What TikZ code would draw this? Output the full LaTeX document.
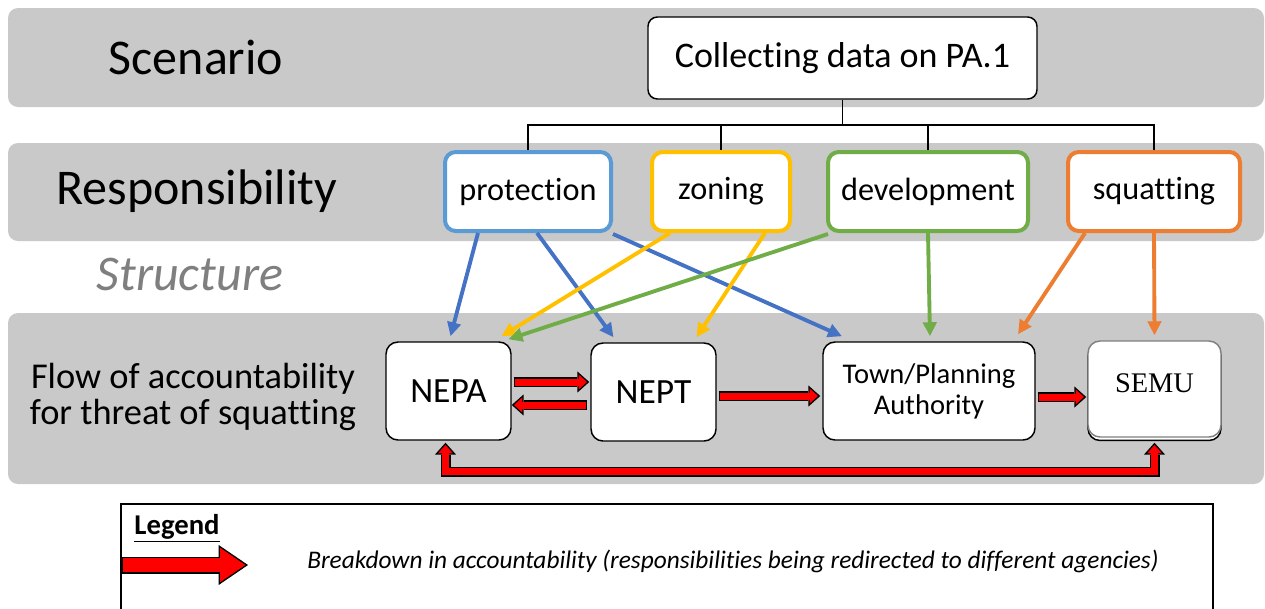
\documentclass[tikz,border=0pt]{standalone}
\usepackage{fontspec}
\setmainfont{Carlito}[RawFeature={-liga;-clig;-calt}]
\newfontfamily\semufont{Liberation Serif}
\usetikzlibrary{arrows.meta, calc, positioning, shadows}
\definecolor{bandGrey}{HTML}{C9C9C9}
\definecolor{txtGrey}{HTML}{7F7F7F}
\definecolor{respBlue}{HTML}{5B9BD5}
\definecolor{arrBlue}{HTML}{4472C4}
\definecolor{respYellow}{HTML}{FFC000}
\definecolor{respGreen}{HTML}{70AD47}
\definecolor{respOrange}{HTML}{ED7D31}
\definecolor{flowRed}{HTML}{FF0000}
\tikzset{
  redtip/.tip       = {Triangle[length=6.2pt, width=11.1pt, line width=0pt]},
  redrim/.tip       = {Triangle[length=9pt, width=16pt, line width=0pt]},
  legtip/.tip       = {Triangle[length=18.9pt, width=25.8pt, line width=0pt]},
  legrim/.tip       = {Triangle[length=22pt, width=30pt, line width=0pt]},
  band/.style       = {fill=bandGrey, rounded corners=7.5pt},
  rowlbl/.style     = {font=\fontsize{37.5}{40}\selectfont},
  scenbox/.style    = {draw, fill=white, line width=1.1pt, rounded corners=7pt,
                       minimum width=291.75pt, minimum height=61.5pt, inner sep=0pt,
                       font=\fontsize{27}{30}\selectfont},
  respbox/.style    = {draw=#1, fill=white, line width=3pt, rounded corners=8pt,
                       minimum height=59.25pt, inner sep=0pt,
                       font=\fontsize{24.2}{26}\selectfont},
  agency/.style     = {draw, fill=white, line width=1.1pt, rounded corners=9pt,
                       minimum height=73.5pt, inner sep=0pt, align=center},
  treeline/.style   = {line width=1.2pt, black},
  resparrow/.style  = {#1, line width=2.9pt, -{Triangle[length=10.5pt, width=10pt]}},
  redbase/.style    = {draw=flowRed, line width=5.25pt, line join=miter,
                       shorten <=1.1pt, shorten >=1.7pt},
  redrimbase/.style = {draw=black, line width=7.5pt, line join=miter,
                       shorten <=0pt, shorten >=0pt},
  redarrow/.style   = {redbase, -{redtip}, preaction={redrimbase, -{redrim}}},
  redboth/.style    = {redbase, shorten <=1.7pt, {redtip}-{redtip},
                       preaction={redrimbase, {redrim}-{redrim}}},
  legarrow/.style   = {draw=flowRed, line width=10.5pt, line join=miter,
                       shorten <=1.1pt, shorten >=2pt, -{legtip},
                       preaction={draw=black, line width=12.75pt,
                       shorten <=0pt, shorten >=0pt, -{legrim}}},
}

\begin{document}
\begin{tikzpicture}[x=0.75pt, y=-0.75pt]
  \useasboundingbox (0,0) rectangle (1265,608);

  % grey bands
  \fill[band] (8,8)   rectangle (1264,107);
  \fill[band] (8,143) rectangle (1264,241);
  \fill[band] (8,313) rectangle (1264,484);

  \node[rowlbl] (scenlbl) at (196,57)  {Scenario};
  \node[rowlbl] (resplbl) at (197,191) {Responsibility};
  \node[rowlbl, txtGrey, font=\fontsize{37.5}{40}\selectfont\itshape]
        (strlbl) at (190,274) {Structure};
  \node[font=\fontsize{27.3}{27.5}\selectfont, align=center]
        (flowlbl) at (193,397) {Flow of accountability\\for threat of squatting};

  % scenario and responsibilities
  \node[scenbox] (scen) at (842.5,58) {Collecting data on PA.1};
  \draw[treeline] (scen.south) -- ++(0,25) coordinate (hub);

  \node[respbox=respBlue,   minimum width=124.5pt] (prot) at (528,191.5)  {protection};
  \node[respbox=respYellow, minimum width=103.5pt] (zon)  at (721,191.5)  {zoning};
  \node[respbox=respGreen,  minimum width=150pt]   (dev)  at (928,191.5)  {development};
  \node[respbox=respOrange, minimum width=129pt]   (squ)  at (1154,191.5) {squatting};

  \draw[treeline] (prot.north) |- (hub) -| (squ.north);
  \draw[treeline] (zon.north) -- (zon.north |- hub);
  \draw[treeline] (dev.north) -- (dev.north |- hub);

  % agencies
  \node[agency, minimum width=93.75pt, font=\fontsize{26.6}{28}\selectfont]
        (nepa) at (448.5,391) {NEPA};
  \node[agency, minimum width=93.75pt, font=\fontsize{26.6}{28}\selectfont]
        (nept) at (653.5,392) {NEPT};
  \node[agency, minimum width=159pt, font=\fontsize{21.4}{23.3}\selectfont]
        (town) at (929,391) {Town/Planning\\Authority};
  \node[agency, draw=txtGrey, minimum width=99.75pt, minimum height=72pt,
        copy shadow={shadow xshift=0pt, shadow yshift=-2.6pt, draw=black, fill=white},
        font=\semufont\fontsize{21.3}{23}\selectfont]
        (semu) at (1154.5,389) {\raisebox{9pt}{SEMU}};

  % who each responsibility goes to
  \draw[resparrow=arrBlue]    ($(prot.south)+(-50,0)$) -- ($(nepa.north)+(2,-5)$);
  \draw[resparrow=arrBlue]    ($(prot.south)+(9,0)$)   -- ($(nept.north)+(-40,-5)$);
  \draw[resparrow=arrBlue]    ($(prot.south east)+(0,1)$) -- ($(town.north)+(-87,-5)$);
  \draw[resparrow=respYellow] ($(zon.south)+(-51,0)$)  -- ($(nepa.north)+(53,-5)$);
  \draw[resparrow=respYellow] ($(zon.south)+(44,0)$)   -- ($(nept.north)+(43,-5)$);
  \draw[resparrow=respGreen]  ($(dev.south west)+(2,1)$) -- ($(nepa.north)+(60,-2)$);
  \draw[resparrow=respGreen]  (dev.south) -- ($(town.north)+(1,-5)$);
  \draw[resparrow=respOrange] ($(squ.south)+(-69,0)$)  -- ($(town.north)+(89,-7)$);
  \draw[resparrow=respOrange] (squ.south) -- ($(semu.north)+(0,-5)$);

  % breakdown in accountability
  \draw[redarrow] ($(nepa.east)+(2,-9)$)  -- ($(nept.west)+(-1,-10)$);
  \draw[redarrow] ($(nept.west)+(-3,13)$) -- ($(nepa.east)+(0,14)$);
  \draw[redarrow] ($(nept.east)+(2,4)$)   -- ($(town.west)+(-2,5)$);
  \draw[redarrow] ($(town.east)+(2,6)$)   -- ($(semu.west)+(-1,8)$);
  \draw[redboth]  ($(nepa.south)+(-3,2)$) -- ($(nepa.south)+(-3,31)$)
                  -| ($(semu.south)+(0,5)$);

  % legend
  \draw[line width=1.1pt] (121,504) rectangle (1213,615);
  \node[font=\fontsize{21.5}{23}\selectfont\bfseries] (leglbl) at (177,528)
        {\underline{Legend}};
  \coordinate (legtail) at (122,565);
  \coordinate (leghead) at (248,565);
  \draw[legarrow] (legtail) -- (leghead);
  \node[anchor=west, inner sep=0pt, font=\fontsize{19}{21}\selectfont\itshape]
        (legtxt) at (307,561)
        {Breakdown in accountability (responsibilities being redirected to different agencies)};
\end{tikzpicture}
\end{document}
